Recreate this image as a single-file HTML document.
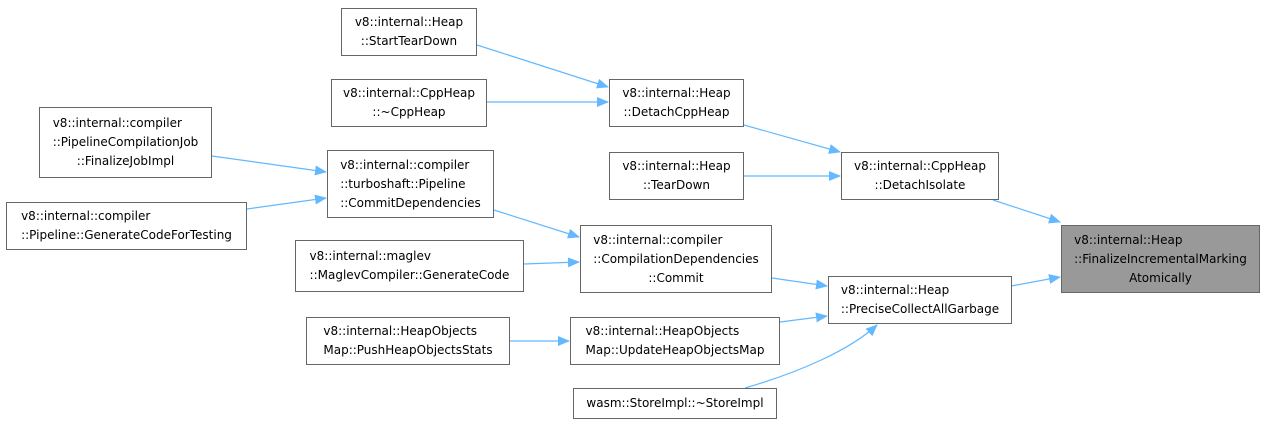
<!DOCTYPE html>
<html><head><meta charset="utf-8"><style>
body{margin:0;background:#fff;width:1265px;height:425px;overflow:hidden;position:relative;font-family:"DejaVu Sans","Liberation Sans",sans-serif;}
.b{position:absolute;box-sizing:border-box;border:1px solid #666;background:#fff;font-size:12px;line-height:19px;color:#000;display:flex;align-items:center;justify-content:center;white-space:nowrap;}
.w{display:inline-block;text-align:left}
.w span{display:block}
.w span:last-child{text-align:center}
svg{position:absolute;left:0;top:0}
</style></head><body>
<svg width="1265" height="425">
<defs><marker id="a" markerWidth="12" markerHeight="10" refX="11" refY="5" orient="auto" markerUnits="userSpaceOnUse"><path d="M0,0 L12,5 L0,10 z" fill="#63b8ff"/></marker></defs>
<g stroke="#63b8ff" stroke-width="1.2" fill="none" marker-end="url(#a)">
<line x1="477" y1="45" x2="608" y2="87"/>
<line x1="487" y1="102" x2="608" y2="102"/>
<line x1="744" y1="125" x2="840" y2="152"/>
<line x1="744" y1="176" x2="840" y2="176"/>
<line x1="993" y1="200" x2="1060" y2="222"/>
<line x1="212" y1="156" x2="326" y2="172"/>
<line x1="247" y1="209" x2="326" y2="198"/>
<line x1="494" y1="210" x2="579" y2="237"/>
<line x1="524" y1="264" x2="579" y2="262"/>
<line x1="772" y1="278" x2="827" y2="286"/>
<line x1="510" y1="341" x2="569" y2="341"/>
<line x1="780" y1="322" x2="827" y2="316"/>
<path d="M745,388 C800,372 850,350 877,325"/>
<line x1="1011" y1="286" x2="1060" y2="277"/>
</g>
</svg>
<div class="b" style="left:341px;top:8px;width:136px;height:48px"><div class="w"><span>v8::internal::Heap</span><span>::StartTearDown</span></div></div>
<div class="b" style="left:331px;top:79px;width:156px;height:48px"><div class="w"><span>v8::internal::CppHeap</span><span>::~CppHeap</span></div></div>
<div class="b" style="left:609px;top:79px;width:135px;height:48px"><div class="w"><span>v8::internal::Heap</span><span>::DetachCppHeap</span></div></div>
<div class="b" style="left:39px;top:107px;width:173px;height:71px"><div class="w"><span>v8::internal::compiler</span><span>::PipelineCompilationJob</span><span>::FinalizeJobImpl</span></div></div>
<div class="b" style="left:327px;top:150px;width:167px;height:68px"><div class="w"><span>v8::internal::compiler</span><span>::turboshaft::Pipeline</span><span>::CommitDependencies</span></div></div>
<div class="b" style="left:6px;top:202px;width:241px;height:48px"><div class="w"><span>v8::internal::compiler</span><span>::Pipeline::GenerateCodeForTesting</span></div></div>
<div class="b" style="left:609px;top:152px;width:135px;height:48px"><div class="w"><span>v8::internal::Heap</span><span>::TearDown</span></div></div>
<div class="b" style="left:841px;top:152px;width:158px;height:48px"><div class="w"><span>v8::internal::CppHeap</span><span>::DetachIsolate</span></div></div>
<div class="b" style="left:580px;top:225px;width:192px;height:68px"><div class="w"><span>v8::internal::compiler</span><span>::CompilationDependencies</span><span>::Commit</span></div></div>
<div class="b" style="left:295px;top:240px;width:229px;height:52px"><div class="w"><span>v8::internal::maglev</span><span>::MaglevCompiler::GenerateCode</span></div></div>
<div class="b" style="left:1061px;top:225px;width:199px;height:68px;background:#999"><div class="w"><span>v8::internal::Heap</span><span>::FinalizeIncrementalMarking</span><span>Atomically</span></div></div>
<div class="b" style="left:828px;top:276px;width:184px;height:48px"><div class="w"><span>v8::internal::Heap</span><span>::PreciseCollectAllGarbage</span></div></div>
<div class="b" style="left:306px;top:317px;width:204px;height:48px"><div class="w"><span>v8::internal::HeapObjects</span><span>Map::PushHeapObjectsStats</span></div></div>
<div class="b" style="left:570px;top:317px;width:210px;height:48px"><div class="w"><span>v8::internal::HeapObjects</span><span>Map::UpdateHeapObjectsMap</span></div></div>
<div class="b" style="left:573px;top:388px;width:204px;height:31px"><div class="w"><span>wasm::StoreImpl::~StoreImpl</span></div></div>
</body></html>
